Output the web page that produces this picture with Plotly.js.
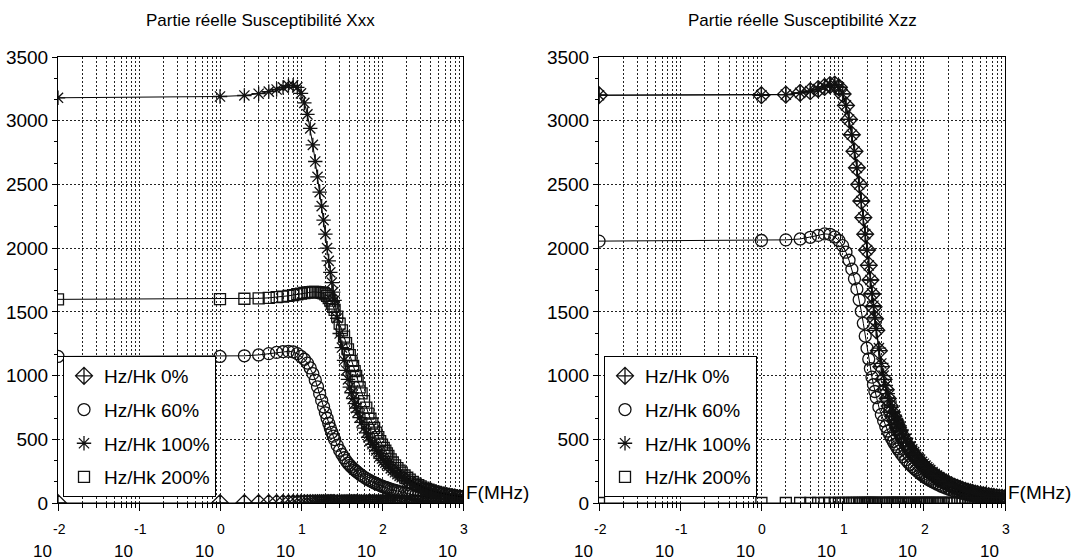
<!DOCTYPE html>
<html>
<head>
<meta charset="utf-8">
<script src="https://cdn.plot.ly/plotly-3.0.1.min.js"></script>
<style>html,body{margin:0;padding:0;background:#fff;}#chart{width:1077px;height:560px;}</style>
</head>
<body>
<div id="chart"></div>
<script>
// Frequencies (MHz)
const freq = [0.01,
  1,2,3,4,5,6,7,8,9,10,11,12,13,14,15,16,17,18,19,20,21,22,23,24,25,26,
  28,30,32,34,36,38,40,
  42,44,46,48,50,53,56,60,64,68,72,76,80,85,90,95,
  100,105,110,115,120,128,136,145,155,165,175,190,205,220,240,260,280,300,325,350,375,400,430,460,500,540,580,630,680,730,790,850,920,1000];

const seriesNames = ['Hz/Hk 0%','Hz/Hk 60%','Hz/Hk 100%','Hz/Hk 200%'];
const symbols = ['diamond-cross-open','circle-open','asterisk-open','square-open'];
const titles = ['Partie réelle Susceptibilité Xxx','Partie réelle Susceptibilité Xzz'];
const xTickExponents = [-2,-1,0,1,2,3];
const yTicks = [0,500,1000,1500,2000,2500,3000,3500];

// Xxx (left panel)
const xx0 = [0,
  0,0,0,0,0,0,0,0,0,0,0,0,0,0,0,0,0,0,0,0,0,0,0,0,0,0,
  0,0,0,0,0,0,0,
  0,0,0,0,0,0,0,0,0,0,0,0,0,0,0,0,
  0,0,0,0,0,0,0,0,0,0,0,0,0,0,0,0,0,0,0,0,0,0,0,0,0,0,0,0,0,0,0,0,0,0];
const xx60 = [1150,
  1150,1155,1162,1172,1182,1188,1190,1186,1172,1150,1128,1098,1060,1015,965,912,858,805,755,708,665,625,588,555,525,498,
  452,414,382,355,332,312,296,
  282,270,259,249,240,227,216,203,192,182,174,166,159,151,144,138,
  132,127,122,118,114,108,103,98,93,88,84,79,74,70,65,61,58,55,51,48,46,44,41,39,37,35,33,31,29,27,26,24,23,22];
const xx100 = [3180,
  3190,3198,3212,3228,3245,3262,3275,3278,3262,3215,3140,3050,2940,2810,2680,2560,2440,2330,2220,2110,2000,1900,1810,1730,1655,1590,
  1450,1330,1220,1120,1040,970,910,
  865,820,780,745,713,670,632,588,550,516,487,461,438,412,389,368,
  349,332,317,303,290,272,256,241,226,213,202,187,175,164,151,140,131,123,115,108,102,96,91,86,80,76,72,67,63,60,57,54,51,48];
const xx200 = [1598,
  1600,1603,1606,1610,1615,1620,1626,1632,1638,1643,1648,1652,1655,1656,1656,1655,1653,1650,1645,1637,1625,1608,1588,1565,1540,1515,
  1462,1408,1355,1305,1255,1205,1160,
  1116,1075,1035,997,960,908,860,800,748,702,661,624,590,552,517,486,
  458,433,410,389,370,342,318,295,273,254,238,216,198,183,166,152,141,131,120,111,104,98,92,87,81,76,72,67,63,60,56,53,50,47];

// Xzz (right panel)
const zz0 = [3200,
  3200,3205,3218,3232,3248,3265,3280,3283,3262,3210,3120,3010,2890,2760,2630,2500,2370,2240,2110,1985,1865,1750,1640,1540,1445,1355,
  1195,1070,970,888,820,762,712,
  678,646,617,590,566,533,504,470,441,415,393,373,355,335,318,302,
  288,275,263,252,242,228,215,203,191,180,171,158,147,138,127,118,110,103,96,89,84,79,74,70,65,61,58,54,51,48,45,43,41,39];
const zz60 = [2055,
  2060,2065,2072,2085,2100,2112,2108,2088,2060,2020,1968,1905,1835,1760,1680,1595,1505,1410,1310,1215,1130,1055,988,928,875,828,
  752,695,645,600,565,535,508,
  483,462,442,424,407,384,364,340,320,302,286,272,259,245,232,220,
  210,200,192,184,177,167,158,149,140,132,125,116,108,101,93,87,81,76,71,66,62,58,55,52,48,45,42,39,37,35,33,31,29,27];
const zz100 = [3200,
  3200,3205,3218,3232,3248,3265,3280,3283,3262,3210,3120,3010,2890,2760,2630,2500,2370,2240,2110,1985,1865,1750,1645,1548,1456,1370,
  1215,1095,1000,922,858,800,750,
  716,684,655,628,603,569,539,503,472,445,421,400,381,359,340,323,
  308,294,281,269,258,243,229,216,203,192,182,168,157,147,136,126,118,110,102,95,89,84,79,74,69,65,61,57,54,51,48,46,43,41];
const zz200 = [0,
  0,0,0,0,0,0,0,0,0,0,0,0,0,0,0,0,0,0,0,0,0,0,0,0,0,0,
  0,0,0,0,0,0,0,
  0,0,0,0,0,0,0,0,0,0,0,0,0,0,0,0,
  0,0,0,0,0,0,0,0,0,0,0,0,0,0,0,0,0,0,0,0,0,0,0,0,0,0,0,0,0,0,0,0,0,0];

const panels = [
  {xa:'x', ya:'y', legend:'legend', data:[xx0,xx60,xx100,xx200]},
  {xa:'x2', ya:'y2', legend:'legend2', data:[zz0,zz60,zz100,zz200]}
];
const msize = [13,12,12,11];
const FONT = 'Liberation Sans, Arial, sans-serif';

const traces = [];
panels.forEach((p, pi) => {
  p.data.forEach((vals, si) => {
    const grp = 'p' + pi + 's' + si;
    traces.push({x: freq, y: vals, xaxis: p.xa, yaxis: p.ya, mode: 'lines',
      line: {color: '#000', width: 1}, showlegend: false, legendgroup: grp, legend: p.legend, hoverinfo: 'skip'});
    traces.push({x: freq, y: vals, xaxis: p.xa, yaxis: p.ya, mode: 'markers', name: seriesNames[si],
      marker: {symbol: symbols[si], size: msize[si], color: '#111', line: {color: '#111', width: 1.3}},
      legendgroup: grp, legend: p.legend});
  });
});

const gridStyle = {showgrid: true, gridcolor: '#222', gridwidth: 1, griddash: '2px,2px'};
function xAxis(domain, anchor) {
  return Object.assign({type: 'log', domain: domain, anchor: anchor, range: [-2, 3], dtick: 1,
    showticklabels: false, ticks: 'outside', ticklen: 7, tickcolor: '#000', tickwidth: 1,
    showline: true, linecolor: '#000', linewidth: 1, mirror: true, zeroline: false,
    minor: {dtick: 'D1', ticks: 'outside', ticklen: 4, tickcolor: '#000', showgrid: true,
      gridcolor: '#222', gridwidth: 1, griddash: '2px,2px'}}, gridStyle);
}
function yAxis(anchor) {
  return Object.assign({anchor: anchor, range: [0, 3500], tickvals: yTicks, ticktext: yTicks.map(String),
    ticks: 'outside', ticklen: 5, tickcolor: '#000', showline: true, linecolor: '#000', linewidth: 1,
    mirror: true, zeroline: false, tickfont: {size: 19, color: '#000', family: FONT},
    minor: {dtick: 500/3, tick0: 0, ticks: 'outside', ticklen: 3, tickcolor: '#000', showgrid: false}}, gridStyle);
}

const annotations = [];
['x','x2'].forEach((xa, i) => {
  annotations.push({xref: xa + ' domain', yref: 'paper', x: 0.5, y: 1, yshift: 37, showarrow: false,
    text: titles[i], font: {size: 17, color: '#000', family: FONT}, xanchor: 'center', yanchor: 'middle'});
  annotations.push({xref: xa + ' domain', yref: 'paper', x: 1, y: 0, yshift: 11, xshift: 1, showarrow: false,
    text: 'F(MHz)', font: {size: 19, color: '#000', family: FONT}, xanchor: 'left', yanchor: 'middle'});
  xTickExponents.forEach(e => {
    annotations.push({xref: xa, yref: 'paper', x: e, y: 0, yshift: -26, xshift: 1, showarrow: false,
      text: String(e), font: {size: 14, color: '#000', family: FONT}, xanchor: 'center', yanchor: 'middle'});
    annotations.push({xref: xa, yref: 'paper', x: e, y: 0, yshift: -48, xshift: -16, showarrow: false,
      text: '10', font: {size: 17, color: '#000', family: FONT}, xanchor: 'center', yanchor: 'middle'});
  });
});

const legendBase = {xanchor: 'left', yanchor: 'bottom', bgcolor: '#fff', bordercolor: '#000', borderwidth: 1,
  font: {size: 19, color: '#000', family: FONT}, tracegroupgap: 6, traceorder: 'grouped', itemwidth: 30};

const layout = {
  width: 1077, height: 560,
  margin: {l: 58, r: 72, t: 57, b: 57},
  paper_bgcolor: '#fff', plot_bgcolor: '#fff',
  font: {family: FONT, color: '#000'},
  xaxis: xAxis([0, 405/947], 'y'),
  yaxis: yAxis('x'),
  xaxis2: xAxis([541/947, 1], 'y2'),
  yaxis2: yAxis('x2'),
  legend: Object.assign({x: 5/947, y: 6/446}, legendBase),
  legend2: Object.assign({x: 546/947, y: 6/446}, legendBase),
  annotations: annotations,
  showlegend: true
};

Plotly.newPlot('chart', traces, layout, {displayModeBar: false, staticPlot: true});
</script>
</body>
</html>
